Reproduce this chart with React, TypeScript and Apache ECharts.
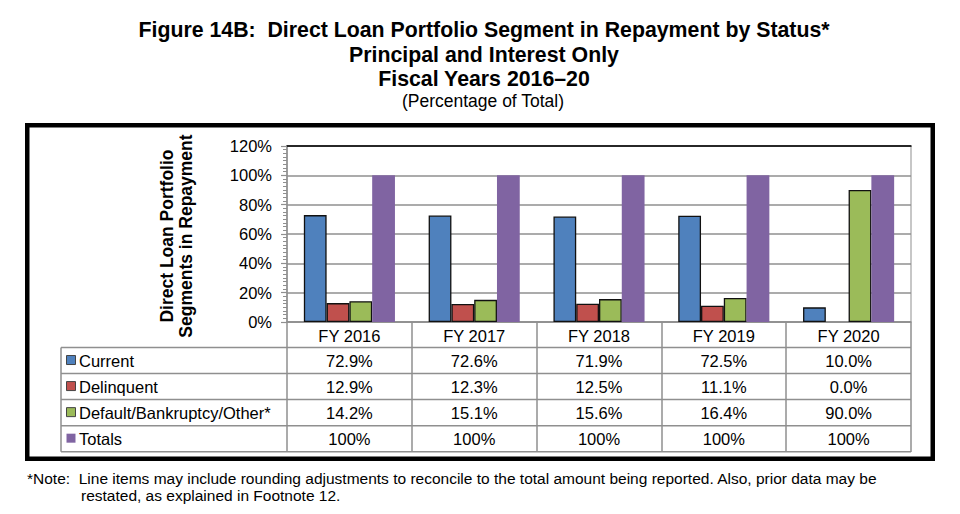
import React, { useEffect, useRef } from "react";
import * as echarts from "echarts";

const categories = ["FY 2016", "FY 2017", "FY 2018", "FY 2019", "FY 2020"];
const seriesNames = ["Current", "Delinquent", "Default/Bankruptcy/Other*", "Totals"];
const currentVals = [72.9, 72.6, 71.9, 72.5, 10.0];
const delinquentVals = [12.9, 12.3, 12.5, 11.1, 0.0];
const defaultVals = [14.2, 15.1, 15.6, 16.4, 90.0];
const totalVals = [100, 100, 100, 100, 100];
const colors = ["#4F81BD", "#C0504D", "#9BBB59", "#8064A2"];

const titleLines = [
  "Figure 14B:  Direct Loan Portfolio Segment in Repayment by Status*",
  "Principal and Interest Only",
  "Fiscal Years 2016\u201320",
];
const subtitle = "(Percentage of Total)";
const yTitleLines = ["Direct Loan Portfolio", "Segments in Repayment"];
const noteLines = [
  "*Note:  Line items may include rounding adjustments to reconcile to the total amount being reported. Also, prior data may be",
  "restated, as explained in Footnote 12.",
];

const FONT = "'Liberation Sans', Arial, Helvetica, sans-serif";
const GRID_LINE = "#8f8f8f";

export default function App() {
  const ref = useRef<HTMLDivElement>(null);

  useEffect(() => {
    document.body.style.margin = "0";
    const el = ref.current;
    if (!el) return;
    const chart = echarts.init(el, undefined, { renderer: "svg" });

    const allSeries = [currentVals, delinquentVals, defaultVals, totalVals];

    const gridLeft = 287;
    const gridTop = 146;
    const gridWidth = 624;
    const gridHeight = 176;

    chart.setOption({
      animation: false,
      backgroundColor: "#ffffff",
      textStyle: { fontFamily: FONT },
      grid: {
        left: gridLeft,
        top: gridTop,
        width: gridWidth,
        height: gridHeight,
        show: true,
        borderColor: GRID_LINE,
        borderWidth: 1,
        containLabel: false,
      },
      xAxis: [
        {
          type: "category",
          data: categories,
          boundaryGap: true,
          axisLine: { show: true, lineStyle: { color: GRID_LINE, width: 1.5 } },
          axisTick: {
            show: true,
            length: 130,
            interval: 0,
            alignWithLabel: false,
            lineStyle: { color: GRID_LINE, width: 1.5 },
          },
          axisLabel: {
            show: true,
            interval: 0,
            margin: 5,
            color: "#000",
            fontSize: 16.5,
            fontFamily: FONT,
          },
        },
        {
          type: "category",
          data: categories,
          position: "top",
          axisLine: { show: true, lineStyle: { color: "#000", width: 1.5 } },
          axisTick: { show: false },
          axisLabel: { show: false },
        },
      ],
      yAxis: {
        type: "value",
        min: 0,
        max: 120,
        interval: 20,
        axisLine: { show: true, lineStyle: { color: GRID_LINE, width: 1.5 } },
        axisTick: { show: true, length: 6, lineStyle: { color: GRID_LINE, width: 1.2 } },
        minorTick: { show: true, splitNumber: 8, length: 4, lineStyle: { color: GRID_LINE, width: 1 } },
        splitLine: { show: true, lineStyle: { color: GRID_LINE, width: 1.5 } },
        axisLabel: {
          formatter: "{value}%",
          color: "#000",
          fontSize: 16.5,
          fontFamily: FONT,
          margin: 15,
        },
      },
      series: allSeries.map((vals, si) => ({
        name: seriesNames[si],
        type: "bar",
        xAxisIndex: 0,
        barGap: "0%",
        barCategoryGap: "27%",
        data: vals.map((v) =>
          v === 0 ? { value: v, itemStyle: { borderWidth: 0 } } : v
        ),
        itemStyle: {
          color: colors[si],
          borderColor: si === 3 ? colors[si] : "#111",
          borderWidth: si === 3 ? 0 : 1.3,
        },
      })),
    });

    const rowTop = 347.5;
    const rowH = 26.05;
    const tableLeft = 61;
    const tableRight = gridLeft + gridWidth;
    const graphics: any[] = [];

    graphics.push({
      type: "rect",
      shape: { x: 27.25, y: 125.25, width: 905.5, height: 333.5 },
      style: { fill: "none", stroke: "#000", lineWidth: 4.5 },
      silent: true,
    });

    const titleY = [30, 55, 79];
    titleLines.forEach((t, i) => {
      graphics.push({
        type: "text",
        x: 484,
        y: titleY[i],
        style: {
          text: t,
          align: "center",
          verticalAlign: "middle",
          fontFamily: FONT,
          fontWeight: "bold",
          fontSize: 21.3,
          fill: "#000",
        },
      });
    });
    graphics.push({
      type: "text",
      x: 483,
      y: 101,
      style: {
        text: subtitle,
        align: "center",
        verticalAlign: "middle",
        fontFamily: FONT,
        fontSize: 17.5,
        fill: "#000",
      },
    });

    const yTitleX = [166.5, 185.5];
    yTitleLines.forEach((t, i) => {
      graphics.push({
        type: "text",
        x: yTitleX[i],
        y: 236,
        rotation: Math.PI / 2,
        style: {
          text: t,
          align: "center",
          verticalAlign: "middle",
          fontFamily: FONT,
          fontWeight: "bold",
          fontSize: 17.5,
          fill: "#000",
        },
      });
    });

    for (let r = 0; r <= seriesNames.length; r++) {
      const y = rowTop + r * rowH;
      graphics.push({
        type: "line",
        shape: { x1: tableLeft, y1: y, x2: tableRight, y2: y },
        style: { stroke: GRID_LINE, lineWidth: 1.5 },
        silent: true,
      });
    }
    graphics.push({
      type: "line",
      shape: { x1: tableLeft, y1: rowTop, x2: tableLeft, y2: rowTop + seriesNames.length * rowH },
      style: { stroke: GRID_LINE, lineWidth: 1.5 },
      silent: true,
    });

    seriesNames.forEach((name, r) => {
      const cy = rowTop + r * rowH + rowH / 2;
      graphics.push({
        type: "rect",
        shape: { x: 66.5, y: cy - 5, width: 9, height: 9 },
        style: {
          fill: colors[r],
          stroke: r === 3 ? "none" : "#444",
          lineWidth: r === 3 ? 0 : 1,
        },
        silent: true,
      });
      graphics.push({
        type: "text",
        x: 79,
        y: cy,
        style: {
          text: name,
          align: "left",
          verticalAlign: "middle",
          fontFamily: FONT,
          fontSize: 16.5,
          fill: "#000",
        },
      });
      allSeries[r].forEach((v, c) => {
        const px = chart.convertToPixel({ xAxisIndex: 0 }, categories[c]) as number;
        const label = r === 3 ? `${v}%` : `${v.toFixed(1)}%`;
        graphics.push({
          type: "text",
          x: px,
          y: cy,
          style: {
            text: label,
            align: "center",
            verticalAlign: "middle",
            fontFamily: FONT,
            fontSize: 16.5,
            fill: "#000",
          },
        });
      });
    });

    const noteX = [27, 81];
    const noteY = [478, 495];
    noteLines.forEach((t, i) => {
      graphics.push({
        type: "text",
        x: noteX[i],
        y: noteY[i],
        style: {
          text: t,
          align: "left",
          verticalAlign: "middle",
          fontFamily: FONT,
          fontSize: 15.5,
          fill: "#000",
        },
      });
    });

    chart.setOption({ graphic: graphics });

    return () => {
      chart.dispose();
    };
  }, []);

  return <div ref={ref} style={{ width: 960, height: 514 }} />;
}
